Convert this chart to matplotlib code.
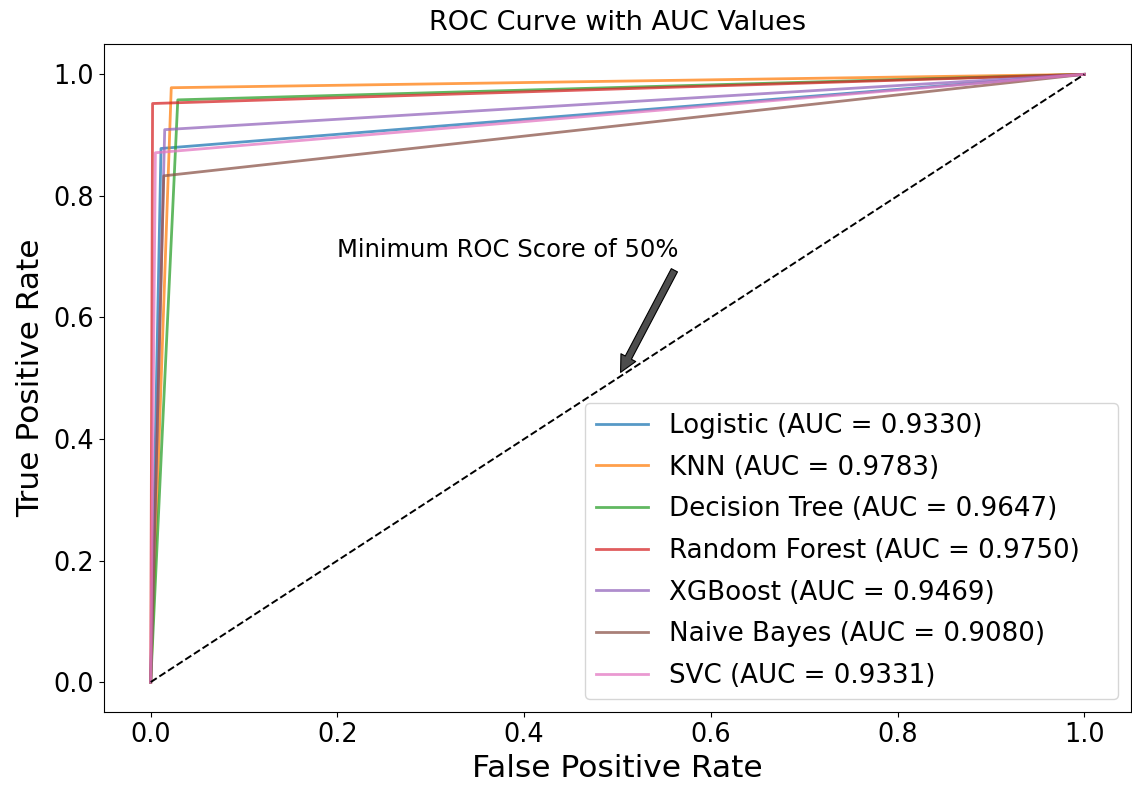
import matplotlib
matplotlib.use("Agg")
import matplotlib.pyplot as plt

# Knee point of each ROC curve (three-point curves: (0,0) -> knee -> (1,1)).
models = ["Logistic", "KNN", "Decision Tree", "Random Forest", "XGBoost", "Naive Bayes", "SVC"]
auc_values = [0.9330, 0.9783, 0.9647, 0.9750, 0.9469, 0.9080, 0.9331]
knee_fpr = [0.011, 0.022, 0.029, 0.002, 0.015, 0.014, 0.005]
knee_tpr = [0.878, 0.978, 0.958, 0.952, 0.909, 0.833, 0.871]

fig = plt.figure(figsize=(11.32, 7.85), dpi=100)
ax = fig.add_axes([0.0919, 0.0924, 0.9072, 0.8516])

# Draw each model's curve.
for name, auc, f, t in zip(models, auc_values, knee_fpr, knee_tpr):
    ax.plot([0.0, f, 1.0], [0.0, t, 1.0], lw=2.0, alpha=0.75, label=f"{name} (AUC = {auc:.4f})")

# Chance line.
ax.plot([0, 1], [0, 1], "k--", lw=1.4)

ax.annotate("Minimum ROC Score of 50%", xy=(0.5, 0.5), xytext=(0.2, 0.7), fontsize=17.5,
            arrowprops=dict(facecolor="#4d4d4d", edgecolor="black", linewidth=0.8,
                            shrink=0.05, width=5, headwidth=12, headlength=12))

ax.set_title("ROC Curve with AUC Values", fontsize=19.5, pad=10)
ax.set_xlabel("False Positive Rate", fontsize=22.5)
ax.set_ylabel("True Positive Rate", fontsize=22.5, labelpad=6)
ax.tick_params(labelsize=18.4)
ax.legend(loc="lower right", fontsize=18.8, labelspacing=0.6,
          bbox_to_anchor=(0.4557, 0.0, 0.5443, 1.0), mode="expand")

fig.savefig("out.png", dpi=100)
